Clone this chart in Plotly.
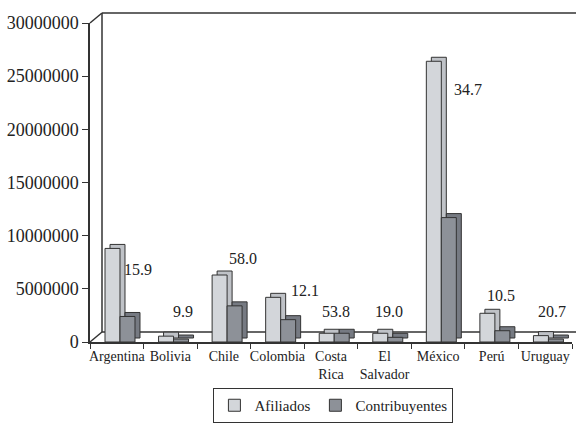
import plotly.graph_objects as go

# data
countries = ["Argentina", "Bolivia", "Chile", "Colombia", "Costa<br>Rica",
             "El<br>Salvador", "México", "Perú", "Uruguay"]
afiliados = [8800000, 550000, 6300000, 4200000, 820000, 820000, 26400000, 2700000, 600000]
contribuyentes = [2400000, 280000, 3400000, 2100000, 820000, 440000, 11700000, 1060000, 280000]
ratio_labels = ["15.9", "9.9", "58.0", "12.1", "53.8", "19.0", "34.7", "10.5", "20.7"]

# where the ratio labels sit (data height and pixel shift from category centre)
label_height = [6.8e6, 2.85e6, 7.9e6, 4.8e6, 2.85e6, 2.85e6, 23.7e6, 4.4e6, 2.85e6]
label_shift = [21, 13, 19, 28, 5, 4, 30, 9, 7]

FONT = "Liberation Serif, Times New Roman, serif"
LIGHT = "#d3d6da"
LIGHT_SIDE = "#bfc2c7"
DARK = "#8d9198"
DARK_SIDE = "#767a82"
EDGE = "#333333"

W, H = 576, 428
L, R, T, B = 90, 4, 23, 86
YMAX = 30000000
plot_w = W - L - R
plot_h = H - T - B
cat_px = plot_w / len(countries)

# fake 3D depth for the bars, in pixels, converted to axis units
DEPTH_PX = (5, 4)
dx = DEPTH_PX[0] / cat_px
dy = DEPTH_PX[1] / plot_h * YMAX
BAR_W = 0.28
LIGHT_OFF = -0.22
DARK_OFF = LIGHT_OFF + BAR_W

fig = go.Figure()
line = dict(color=EDGE, width=1)

for vals, off, col in [(afiliados, LIGHT_OFF, LIGHT_SIDE), (contribuyentes, DARK_OFF, DARK_SIDE)]:
    fig.add_trace(go.Bar(x=countries, y=vals, base=dy, offset=off + dx, width=BAR_W,
                         marker=dict(color=col, line=line), showlegend=False, hoverinfo="skip"))

fig.add_trace(go.Bar(x=countries, y=afiliados, name="Afiliados", offset=LIGHT_OFF, width=BAR_W,
                     marker=dict(color=LIGHT, line=line)))
fig.add_trace(go.Bar(x=countries, y=contribuyentes, name="Contribuyentes", offset=DARK_OFF, width=BAR_W,
                     marker=dict(color=DARK, line=line)))

for c, txt, yv, sh in zip(countries, ratio_labels, label_height, label_shift):
    fig.add_annotation(x=c, y=yv, text=txt, showarrow=False, xshift=sh,
                       font=dict(size=16, color="#222", family=FONT))

# back wall / floor outline of the 3D frame
wx = 12 / plot_w
wy = 10 / plot_h
frame = dict(color=EDGE, width=1.5)
shapes = [
    dict(type="line", xref="paper", yref="paper", x0=wx, y0=wy, x1=wx, y1=1 + wy, line=frame, layer="below"),
    dict(type="line", xref="paper", yref="paper", x0=wx, y0=1 + wy, x1=1 + R / plot_w, y1=1 + wy, line=frame, layer="below"),
    dict(type="line", xref="paper", yref="paper", x0=wx, y0=wy, x1=1 + R / plot_w, y1=wy, line=frame, layer="below"),
    dict(type="line", xref="paper", yref="paper", x0=0, y0=1, x1=wx, y1=1 + wy, line=frame),
    dict(type="line", xref="paper", yref="paper", x0=0, y0=0, x1=wx, y1=wy, line=frame),
]

# legend must stay inside the page or plotly shrinks the plot area
legend_top = -46 / plot_h

fig.update_layout(
    width=W,
    height=H,
    margin=dict(l=L, r=R, t=T, b=B),
    paper_bgcolor="white",
    plot_bgcolor="white",
    barmode="overlay",
    font=dict(family=FONT, color="#222"),
    shapes=shapes,
    showlegend=True,
    legend=dict(orientation="h", x=0.505, xanchor="center", y=legend_top, yanchor="top",
                bordercolor=EDGE, borderwidth=1, bgcolor="white", itemwidth=30,
                font=dict(size=15, family=FONT), traceorder="normal"),
)
fig.update_xaxes(showline=True, linecolor=EDGE, linewidth=1.5, ticks="outside", tickson="boundaries",
                 ticklen=5, tickcolor=EDGE, showgrid=False, tickangle=0, automargin=False,
                 tickfont=dict(size=14, family=FONT),
                 range=[-0.5, len(countries) - 0.5])
fig.update_yaxes(range=[0, YMAX], tickvals=list(range(0, YMAX + 1, 5000000)), tickformat="d",
                 showline=True, linecolor=EDGE, linewidth=1.5, ticks="outside", ticklen=6,
                 tickcolor=EDGE, showgrid=False, zeroline=False, automargin=False,
                 tickfont=dict(size=18, family=FONT))

fig.write_html("out.html", config={"displayModeBar": False},
               post_script="document.body.style.margin='0';")
